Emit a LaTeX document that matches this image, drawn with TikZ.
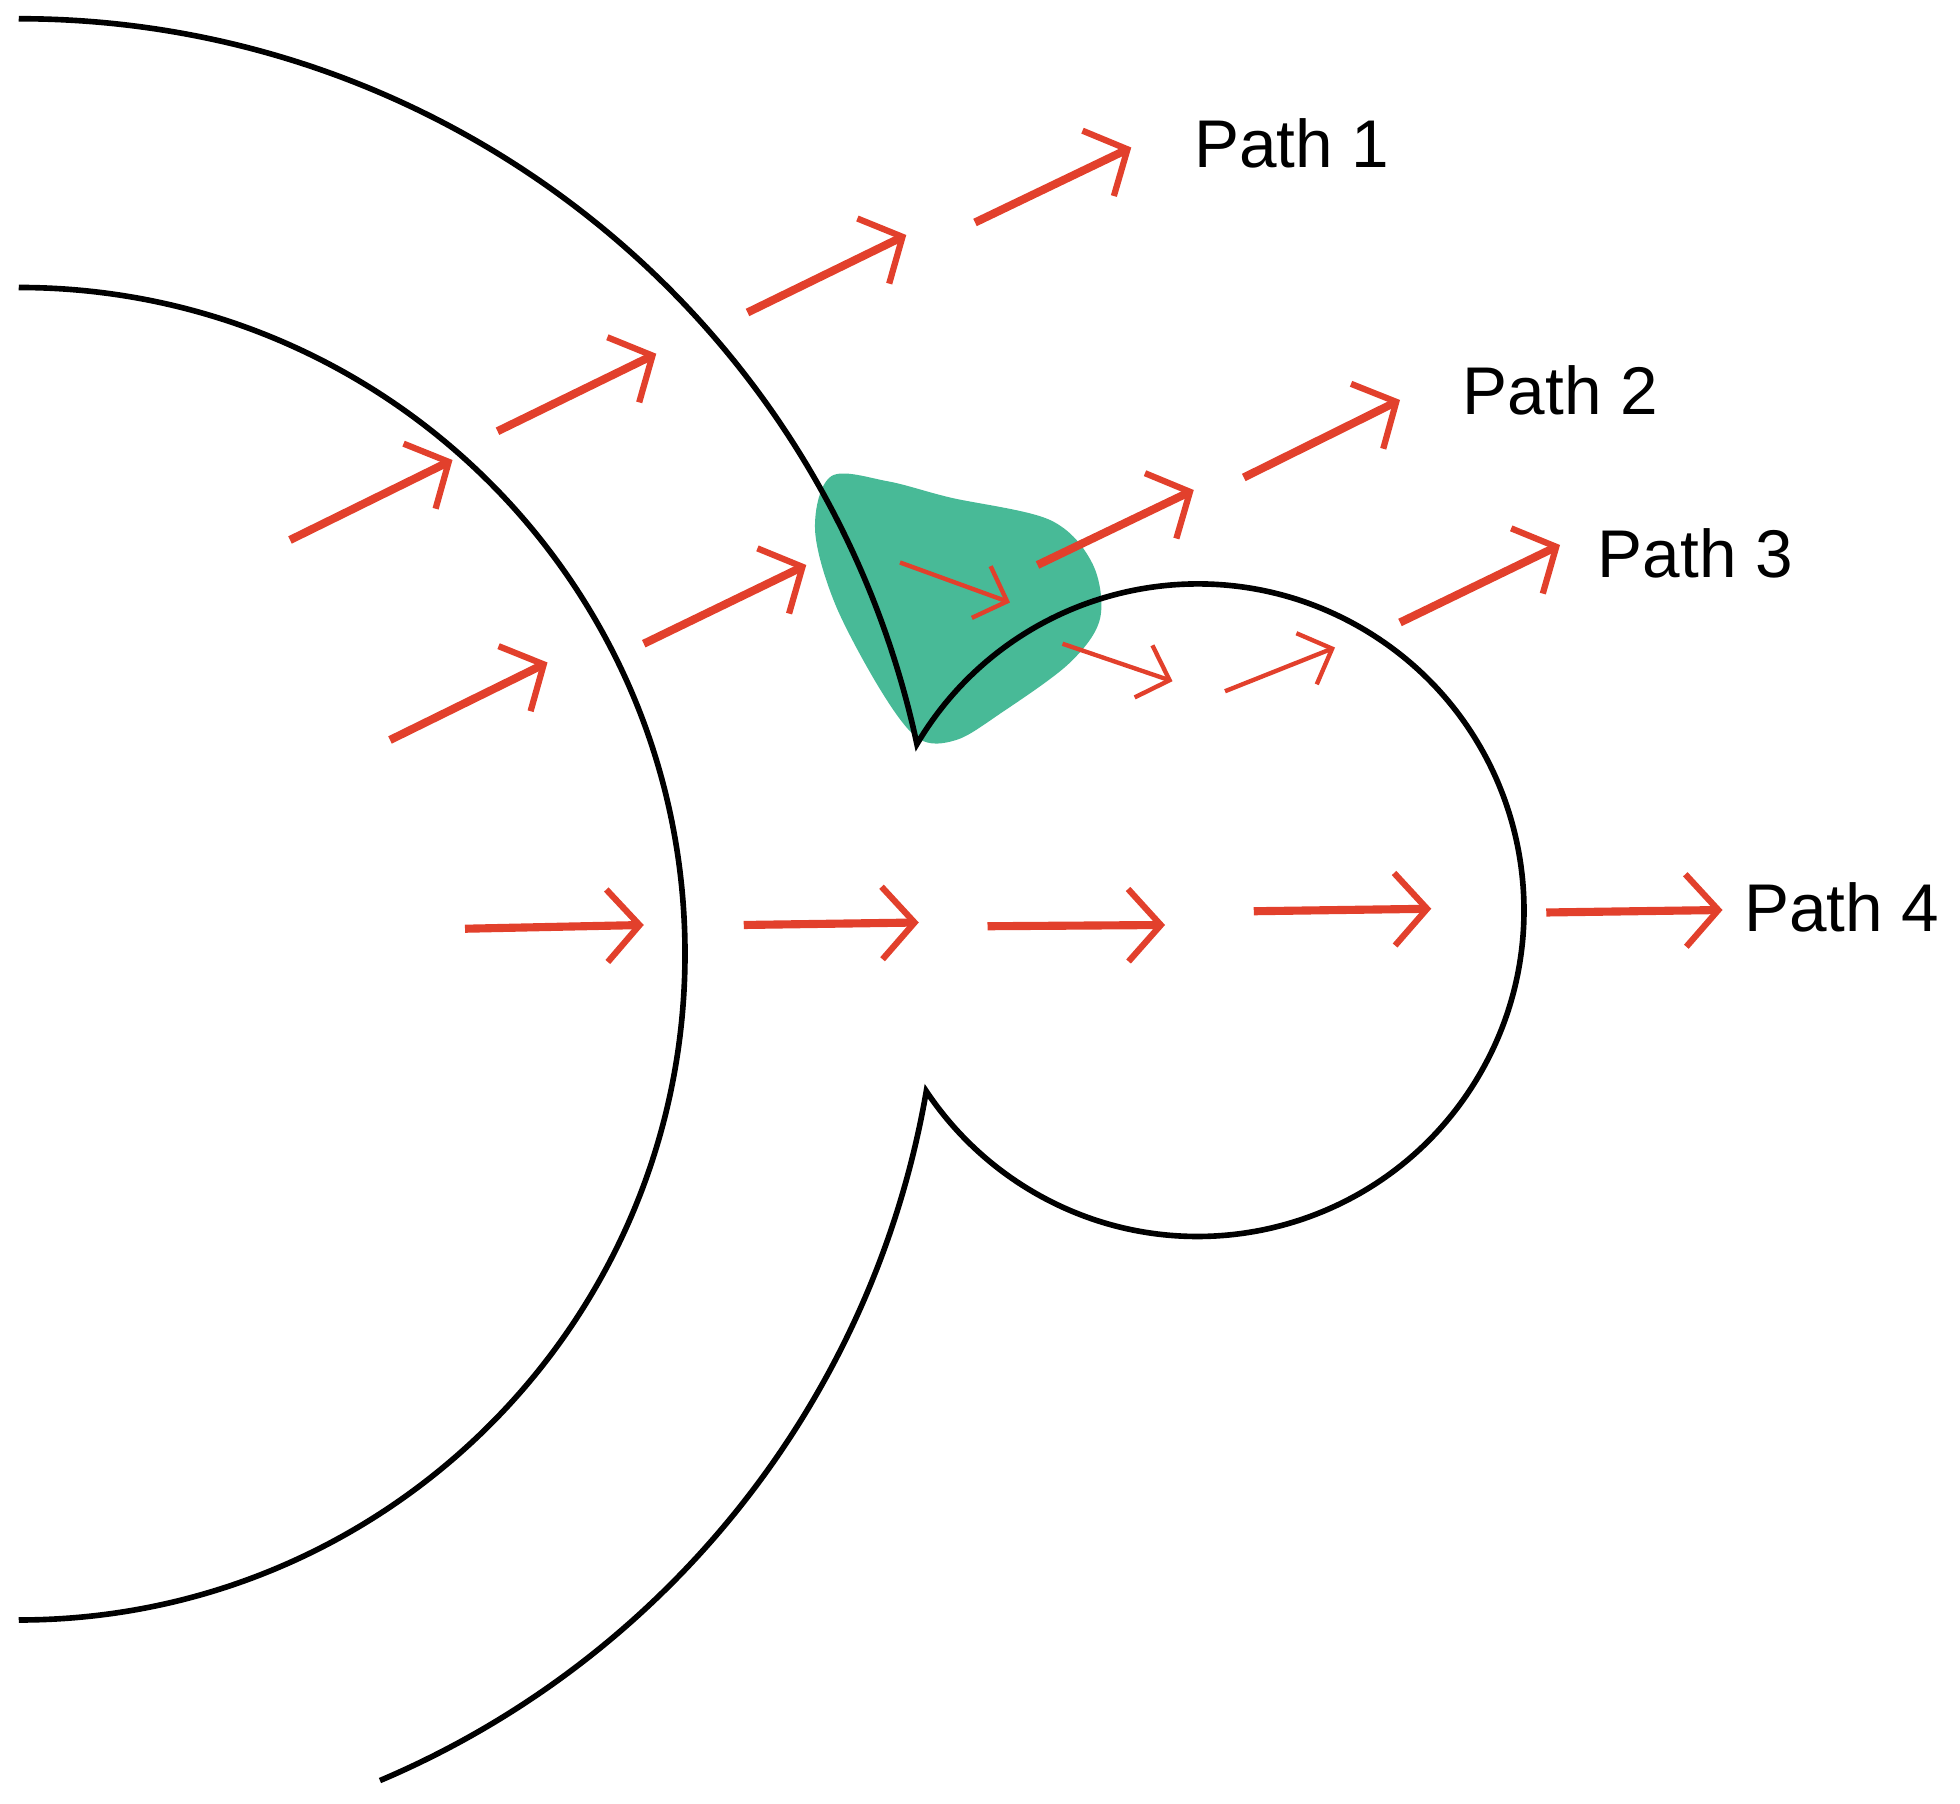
\documentclass[tikz,border=0pt]{standalone}
\usepackage{fontspec}
\setmainfont{Liberation Sans}
\usetikzlibrary{arrows.meta}
\begin{document}
\begin{tikzpicture}[x=1pt,y=1pt,
  outline/.style={line width=4.5pt,black},
  ray/.style={line width=6.5pt,color=rayred,-{Straight Barb[length=26pt,width=58pt,line width=5pt]}},
  thinray/.style={line width=3.5pt,color=rayred,-{Straight Barb[length=22pt,width=44pt,line width=3.5pt]}},
  lab/.style={font=\fontsize{54}{62}\selectfont,anchor=west,inner sep=0pt}]
\definecolor{rayred}{RGB}{226,64,44}
\definecolor{blob}{RGB}{52,178,140}
\useasboundingbox (0,0) rectangle (1568,1443);
% green blob
\fill[blob,opacity=0.9] plot[smooth cycle,tension=0.55] coordinates
 {(665,1062) (710,1058) (760,1045) (840,1027) (874,992) (880,948) (855,912) (800,872) (765,851) (735,852) (705,890) (668,960) (652,1020)};
% outlines
\draw[outline] (15,1428) arc[start angle=90,end angle=12.15,radius=735]
  arc[start angle=149.4,end angle=-146.3,radius=261]
  arc[start angle=-9.8,end angle=-67,radius=735];
\draw[outline] (15,1213) arc[start angle=90,end angle=-90,radius=533];
% Path 1
\draw[ray] (232,1011) -- (362,1075);
\draw[ray] (398,1098) -- (525,1160);
\draw[ray] (598,1193) -- (725,1255);
\draw[ray] (780,1265) -- (905,1325);
% Path 2
\draw[ray] (312,851) -- (438,913);
\draw[ray] (515,928) -- (645,991);
\draw[thinray] (720,993) -- (808,961);
\draw[ray] (830,991) -- (955,1051);
\draw[ray] (995,1061) -- (1120,1123);
% Path 3
\draw[thinray] (850,928) -- (938,898);
\draw[thinray] (980,890) -- (1068,925);
\draw[ray] (1120,945) -- (1248,1007);
% Path 4
\draw[ray] (372,700) -- (515,703);
\draw[ray] (595,703) -- (735,705);
\draw[ray] (790,702) -- (932,703);
\draw[ray] (1003,714) -- (1145,716);
\draw[ray] (1237,713) -- (1378,715);
% labels
\node[lab] (p1) at (955,1328) {Path 1};
\node[lab] (p2) at (1170,1131) {Path 2};
\node[lab] (p3) at (1278,1000) {Path 3};
\node[lab] (p4) at (1395,717) {Path 4};
\end{tikzpicture}
\end{document}
